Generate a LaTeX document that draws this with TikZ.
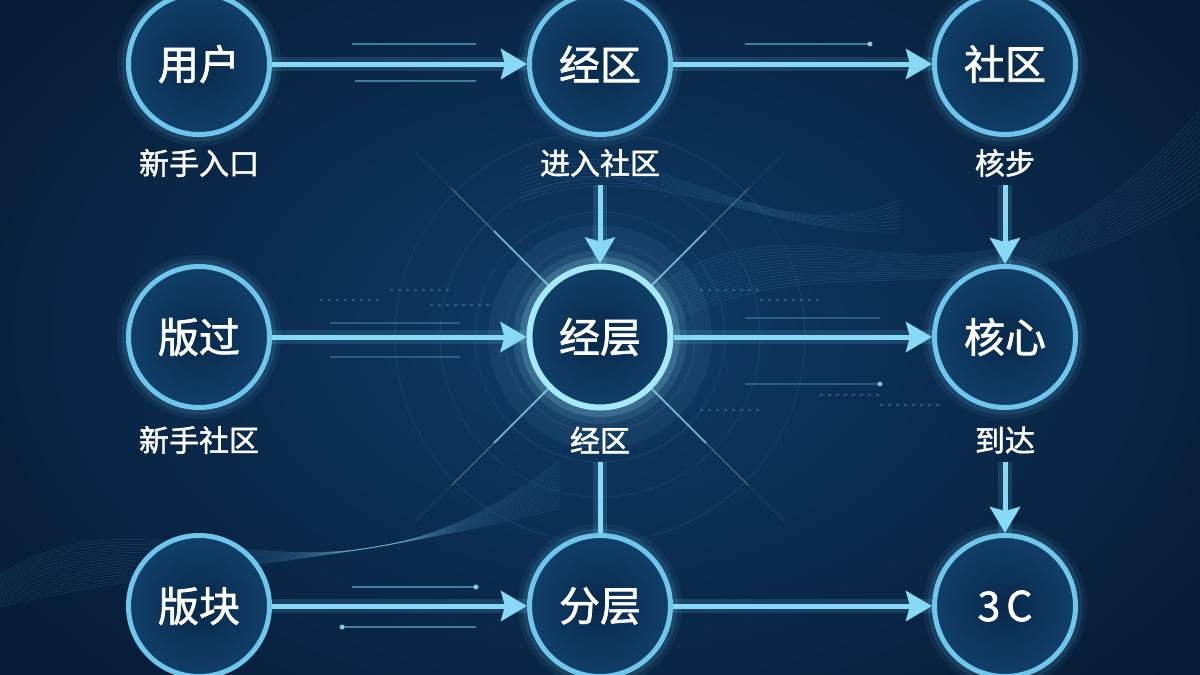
\documentclass[tikz,border=0pt]{standalone}
\usepackage{fontspec}
\newfontfamily\cjk[FakeBold=1.6]{Noto Sans CJK SC}
\usetikzlibrary{arrows.meta}
\definecolor{bgmid}{HTML}{0F3B66}
\definecolor{bgedge}{HTML}{061A33}
\definecolor{ring}{HTML}{6EC6EC}
\definecolor{ringhi}{HTML}{A4EAFF}
\definecolor{arrowc}{HTML}{88D9F5}
\definecolor{cin}{HTML}{08284A}
\definecolor{cout}{HTML}{113F68}
\begin{document}
\begin{tikzpicture}[x=1pt,y=-1pt,
  circ/.style={circle,minimum size=141pt,inner sep=0pt,draw=ring,line width=5pt,
    shade,inner color=cin,outer color=cout,text=white,
    font=\cjk\fontsize{41}{44}\selectfont},
  hubcirc/.style={circ,draw=ringhi,line width=6pt},
  lbl/.style={text=white,font=\cjk\fontsize{30}{32}\selectfont,inner sep=2pt},
  arr/.style={draw=arrowc,line width=5pt,-{Stealth[length=26pt,width=30pt,inset=4pt]}},
  link/.style={draw=arrowc,line width=5pt},
  arrglow/.style={draw=ring,line width=14pt,opacity=0.16},
  deco/.style={draw=ring,line width=1.4pt,opacity=0.55},
  wave/.style={draw=ring,line width=0.5pt,opacity=0.18},
]
\useasboundingbox (0,0) rectangle (1200,675);
\begin{scope}
\clip (0,0) rectangle (1200,675);
% background
\fill[bgedge] (0,0) rectangle (1200,675);
\shade[inner color=bgmid,outer color=bgedge] (600,330) ellipse (760pt and 520pt);
% waves lower-left
\foreach \i in {0,...,16}
  \draw[wave] (0,575+\i*2) .. controls (160,470+\i*6) and (320,650-\i*5) .. (560,460+\i*3);
% waves right
\foreach \i in {0,...,14}
  \draw[wave] (640,300+\i*3) .. controls (820,150+\i*5) and (960,390-\i*3) .. (1200,110+\i*6);
\foreach \i in {0,...,8}
  \draw[wave] (520,170+\i*4) .. controls (650,120+\i*4) and (760,260-\i*3) .. (900,200+\i*4);
% concentric rings round hub
\foreach \r in {95,125,160,205}
  \draw[ring,opacity=0.12,line width=0.8pt] (600,337) circle (\r pt);
% light rays from hub
\foreach \a in {45,135,225,315}{
  \draw[ringhi,opacity=0.55,line width=1.8pt] (600,337) -- ++(\a:150pt);
  \draw[ringhi,opacity=0.25,line width=1.2pt] (600,337) -- ++(\a:210pt);
  \draw[ringhi,opacity=0.10,line width=1pt] (600,337) -- ++(\a:260pt);
}
% short decorative lines by the arrows
\draw[deco] (352,44) -- (476,44);
\draw[deco] (355,81) -- (476,81);
\draw[deco] (745,44) -- (870,44);
\fill[ringhi,opacity=0.8] (870,44) circle (2.5pt);
\draw[deco,opacity=0.3] (330,323) -- (460,323);
\draw[deco,opacity=0.3] (330,357) -- (460,357);
\draw[deco,opacity=0.3] (745,318) -- (880,318);
\draw[deco,opacity=0.3] (745,384) -- (880,384);
\fill[ringhi,opacity=0.7] (880,384) circle (2.5pt);
\draw[deco] (352,587) -- (476,587);
\fill[ringhi,opacity=0.8] (476,587) circle (2.5pt);
\draw[deco] (342,627) -- (476,627);
\fill[ringhi,opacity=0.8] (342,627) circle (2.5pt);
% dashed data bits
\foreach \x/\y in {320/300,390/290,430/305,700/290,760/300,820/395,880/405,700/410}
  \draw[ring,opacity=0.28,line width=1.5pt,dash pattern=on 3pt off 5pt] (\x,\y) -- ++(60,0);
% glows round circles
\foreach \x/\y in {199/64,600/64,1005/64,199/337,1005/337,600/606,1005/606}{
  \draw[ring,opacity=0.07,line width=20pt] (\x,\y) circle (72pt);
  \draw[ring,opacity=0.12,line width=11pt] (\x,\y) circle (72pt);
}
\fill[ringhi,opacity=0.06] (600,337) circle (112pt);
\draw[ringhi,opacity=0.10,line width=28pt] (600,337) circle (73pt);
\draw[ringhi,opacity=0.18,line width=14pt] (600,337) circle (73pt);
\end{scope}
% nodes
\node[circ] (u)  at (199,64) {用户};
\node[circ] (jq) at (600,64) {经区};
\node[circ] (sq) at (1005,64) {社区};
\node[circ] (bg) at (199,337) {版过};
\node[hubcirc] (jc) at (600,337) {经层};
\node[circ] (hx) at (1005,337) {核心};
\node[circ] (bk) at (199,606) {版块};
\node[circ] (fc) at (600,606) {分层};
\node[circ] (sd) at (1005,606) {3\hspace{6pt}C};
% labels
\node[lbl] (lu)  at (199,163) {新手入口};
\node[lbl] (ljq) at (600,163) {进入社区};
\node[lbl] (lsq) at (1005,163) {核步};
\node[lbl] (lbg) at (199,440) {新手社区};
\node[lbl] (ljc) at (600,440) {经区};
\node[lbl] (lhx) at (1005,440) {到达};
% arrow glows
\draw[arrglow] (u) -- (jq);
\draw[arrglow] (jq) -- (sq);
\draw[arrglow] (bg) -- (jc);
\draw[arrglow] (jc) -- (hx);
\draw[arrglow] (bk) -- (fc);
\draw[arrglow] (fc) -- (sd);
\draw[arrglow,shorten <=6pt] (ljq) -- (jc);
\draw[arrglow,shorten <=6pt] (lsq) -- (hx);
\draw[arrglow,shorten <=6pt] (lhx) -- (sd);
\draw[arrglow,shorten <=6pt] (ljc) -- (fc);
% connectors
\draw[arr] (u) -- (jq);
\draw[arr] (jq) -- (sq);
\draw[arr] (bg) -- (jc);
\draw[arr] (jc) -- (hx);
\draw[arr] (bk) -- (fc);
\draw[arr] (fc) -- (sd);
\draw[arr,shorten <=6pt] (ljq) -- (jc);
\draw[arr,shorten <=6pt] (lsq) -- (hx);
\draw[arr,shorten <=6pt] (lhx) -- (sd);
\draw[link,shorten <=6pt] (ljc) -- (fc);
\end{tikzpicture}
\end{document}
